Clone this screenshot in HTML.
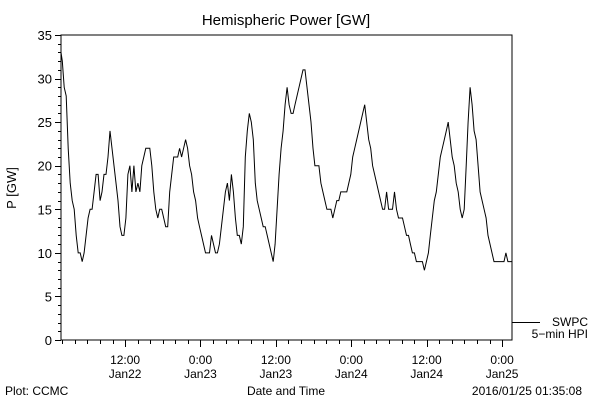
<!DOCTYPE html>
<html><head><meta charset="utf-8"><style>
body{margin:0;background:#fff;}
svg text{font-family:"Liberation Sans",sans-serif;fill:#000;}
</style></head><body>
<svg id="chart" width="600" height="400" viewBox="0 0 600 400">
<rect width="600" height="400" fill="#fff"/>
<text x="286" y="25" font-size="15" text-anchor="middle">Hemispheric Power [GW]</text>
<rect x="61" y="35" width="451" height="305" fill="none" stroke="#000" stroke-width="1"/>
<g id="yaxis"></g>
<g id="xaxis"></g>
<path id="series" fill="none" stroke="#000" stroke-width="1"/>
<text x="16" y="188" font-size="13" text-anchor="middle" transform="rotate(-90 16 188)">P [GW]</text>
<line x1="512" y1="322.5" x2="540" y2="322.5" stroke="#000"/>
<text x="588" y="326" font-size="12" text-anchor="end">SWPC</text>
<text x="588" y="338" font-size="12" text-anchor="end">5−min HPI</text>
<text x="5" y="395" font-size="12">Plot: CCMC</text>
<text x="286" y="395" font-size="12" text-anchor="middle">Date and Time</text>
<text x="582" y="395" font-size="12" text-anchor="end">2016/01/25 01:35:08</text>
</svg>
<script>
// time in hours since 2016-01-22 00:00
const startHour = 2.0;
const stepMinutes = 19;
const values = [32,29,28,22,18,16,15,12,10,10,9,10,12,14,15,15,17,19,19,16,17,19,19,21,24,22,20,18,16,13,12,12,14,19,20,17,20,17,18,17,20,21,22,22,22,20,17,15,14,15,15,14,13,13,17,19,21,21,21,22,21,22,23,22,20,19,17,16,14,13,12,11,10,10,10,12,11,10,10,11,13,15,17,18,16,19,17,14,12,12,11,13,21,24,26,25,23,18,16,15,14,13,13,12,11,10,9,11,15,19,22,24,27,29,27,26,26,27,28,29,30,31,31,29,27,25,22,20,20,20,18,17,16,15,15,15,14,15,16,16,17,17,17,17,18,19,21,22,23,24,25,26,27,25,23,22,20,19,18,17,16,15,15,17,15,15,15,17,15,14,14,14,13,12,12,11,10,10,9,9,9,9,8,9,10,12,14,16,17,19,21,22,23,24,25,23,21,20,18,17,15,14,15,20,25,29,27,24,23,20,17,16,15,14,12,11,10,9,9,9,9,9,9,10,9,9];
const yTicks = [0,5,10,15,20,25,30,35];
const xMajorHours = [12,24,36,48,60,72];
const xLabelTop = ["12:00","0:00","12:00","0:00","12:00","0:00"];
const xLabelBottom = ["Jan22","Jan23","Jan23","Jan24","Jan24","Jan25"];

const X0=61,X1=512,Y0=340,Y1=35,H0=1.8,H1=73.58,V0=0,V1=35;
const xs=h=>X0+(h-H0)*(X1-X0)/(H1-H0);
const ys=v=>Y0-(v-V0)*(Y0-Y1)/(V1-V0);
const NS="http://www.w3.org/2000/svg";
function mk(tag,attrs,parent){const e=document.createElementNS(NS,tag);for(const k in attrs)e.setAttribute(k,attrs[k]);parent.appendChild(e);return e;}
const ya=document.getElementById('yaxis');
for(let v=V0;v<=V1;v++){
  const y=Math.round(ys(v))+0.5, major=v%5===0;
  const t=mk('line',{x1:X0-(major?6:3),x2:X0,y1:y,y2:y,stroke:'#000'},ya);
  
  
}
yTicks.forEach(v=>{
  const t=mk('text',{x:52,y:ys(v)+5,'font-size':13,'text-anchor':'end'},ya);
  t.textContent=v;
  
  
});
const xa=document.getElementById('xaxis');
for(let h=2;h<=H1;h+=2){
  const x=Math.round(xs(h))+0.5, major=h%12===0;
  const t=mk('line',{x1:x,x2:x,y1:Y0,y2:Y0+(major?7:4),stroke:'#000'},xa);
  
  
}
xMajorHours.forEach((h,i)=>{
  const a=mk('text',{x:xs(h),y:364,'font-size':12,'text-anchor':'middle'},xa);
  a.textContent=xLabelTop[i];
  
  
  const b=mk('text',{x:xs(h),y:378,'font-size':12,'text-anchor':'middle'},xa);
  b.textContent=xLabelBottom[i];
  
  
});
let d='M'+X0+' '+ys(33);
values.forEach((v,i)=>{const h=startHour+i*stepMinutes/60;d+=' L'+xs(h).toFixed(1)+' '+ys(v).toFixed(1);});
d+=' L'+X1+' '+ys(values[values.length-1]).toFixed(1);
document.getElementById('series').setAttribute('d',d);
</script>
</body></html>
